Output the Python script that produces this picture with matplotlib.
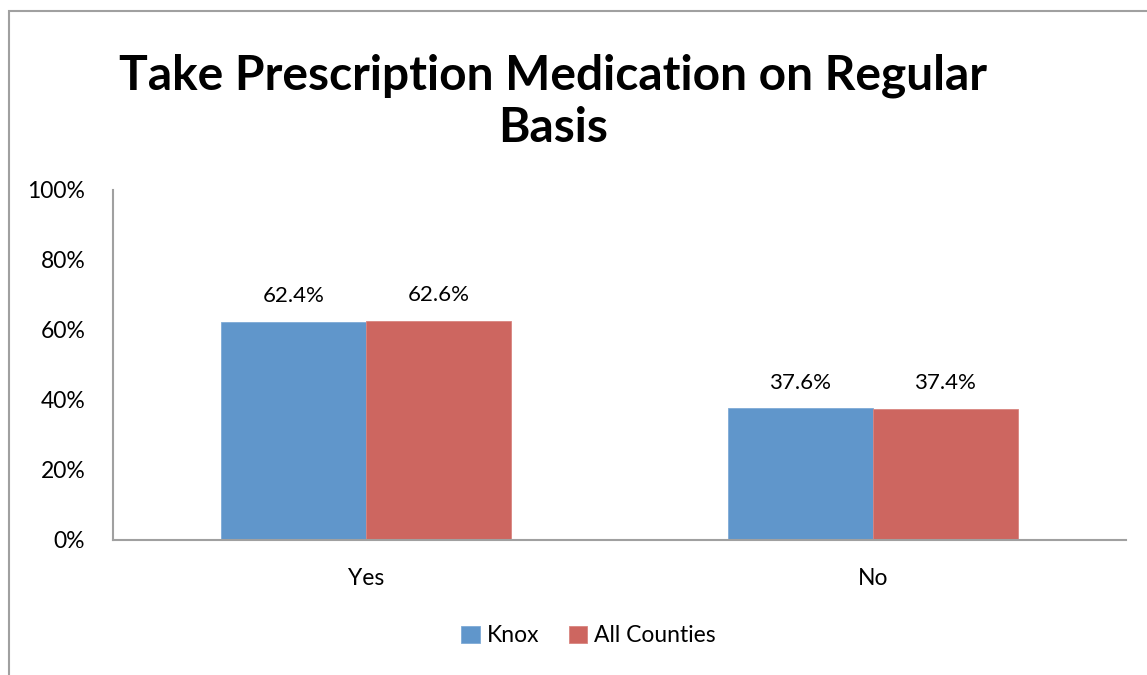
import matplotlib
matplotlib.use("Agg")
import matplotlib.pyplot as plt
import numpy as np
from matplotlib.patches import Rectangle

categories = ["Yes", "No"]
knox = [62.4, 37.6]
all_counties = [62.6, 37.4]
series_names = ["Knox", "All Counties"]
yticks = [0, 20, 40, 60, 80, 100]

plt.rcParams['font.family'] = ['Lato', 'DejaVu Sans']

blue = "#6096CB"
red = "#CD6660"
grey = "#A0A0A0"

fig = plt.figure(figsize=(11.47, 6.75), dpi=100)
ax = fig.add_axes([113/1147, 135/675, 1013/1147, 350/675])

# outer chart frame, runs off the right and bottom edges
fig.add_artist(Rectangle((9/1147, -0.1), 1.2, (675 - 11)/675 + 0.1,
                         transform=fig.transFigure, fill=False,
                         edgecolor=grey, linewidth=1.5))

x = np.arange(len(categories))
w = 0.286
b1 = ax.bar(x - w/2, knox, w, color=blue, edgecolor="#7FAAD6", linewidth=0.6, label=series_names[0])
b2 = ax.bar(x + w/2, all_counties, w, color=red, edgecolor="#D98580", linewidth=0.6, label=series_names[1])

for bars, vals in ((b1, knox), (b2, all_counties)):
    for rect, v in zip(bars, vals):
        ax.text(rect.get_x() + rect.get_width()/2, v + 4.5, f"{v:.1f}%",
                ha="center", va="bottom", fontsize=16)

ax.set_xlim(-0.5, 1.5)
ax.set_ylim(0, 100)
ax.set_yticks(yticks)
ax.set_yticklabels([f"{t}%" for t in yticks], fontsize=16.5)
ax.set_xticks(x)
ax.set_xticklabels(categories, fontsize=16.5)
ax.tick_params(axis="x", length=0, pad=20)
ax.tick_params(axis="y", length=0, pad=20)

for s in ("top", "right"):
    ax.spines[s].set_visible(False)
for s in ("left", "bottom"):
    ax.spines[s].set_color(grey)
    ax.spines[s].set_linewidth(1.5)

fig.text(0.482, 0.849, "Take Prescription Medication on Regular\nBasis",
         ha="center", va="center", fontsize=34.5, fontweight="bold",
         linespacing=1.22)

fig.legend(handles=[b1, b2], labels=series_names, loc="center",
           bbox_to_anchor=(0.513, 0.058), ncol=2, frameon=False,
           fontsize=16.5, handlelength=0.8, handleheight=0.8,
           handletextpad=0.3, columnspacing=1.3)

fig.savefig("out.png", dpi=100)
